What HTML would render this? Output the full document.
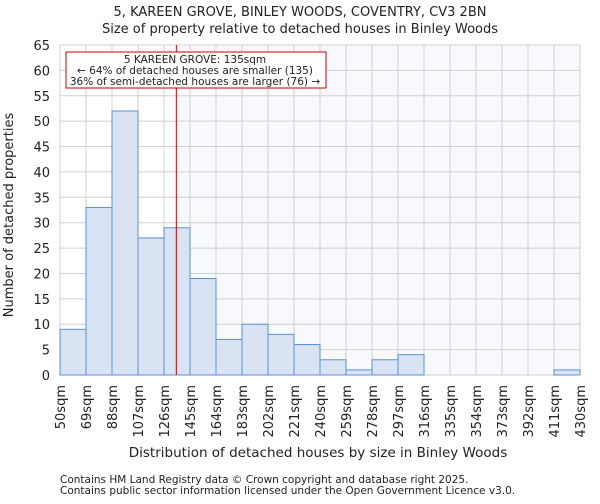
<!DOCTYPE html>
<html><head><meta charset="utf-8"><style>
body{margin:0;background:#fff;font-family:"DejaVu Sans","Liberation Sans",sans-serif;}
svg text{font-family:"DejaVu Sans","Liberation Sans",sans-serif;fill:#222;}
</style></head><body>
<svg id="chart" width="600" height="500" xmlns="http://www.w3.org/2000/svg">
<text x="300" y="16" text-anchor="middle" font-size="13">5, KAREEN GROVE, BINLEY WOODS, COVENTRY, CV3 2BN</text>
<text x="300" y="33" text-anchor="middle" font-size="13">Size of property relative to detached houses in Binley Woods</text>
<rect id="shade" fill="#f7f9fd"/>
<g id="grid"></g>
<g id="bars"></g>
<g id="yaxis"></g>
<g id="xaxis"></g>
<line id="marker" stroke="#cc0000" stroke-width="1"/>
<g>
<rect x="66" y="52" width="260" height="36" fill="#fff" stroke="#cc0000" stroke-width="1"/>
<text x="195" y="63" text-anchor="middle" font-size="10.5">5 KAREEN GROVE: 135sqm</text>
<text x="195" y="74" text-anchor="middle" font-size="10.5">← 64% of detached houses are smaller (135)</text>
<text x="195" y="85" text-anchor="middle" font-size="10.5">36% of semi-detached houses are larger (76) →</text>
</g>
<text transform="translate(13,215) rotate(-90)" text-anchor="middle" font-size="13">Number of detached properties</text>
<text x="318" y="457" text-anchor="middle" font-size="13.5">Distribution of detached houses by size in Binley Woods</text>
<text x="60" y="483" font-size="10.5">Contains HM Land Registry data © Crown copyright and database right 2025.</text>
<text x="60" y="494" font-size="10.5">Contains public sector information licensed under the Open Government Licence v3.0.</text>
</svg>
<script>
const binEdges=[50,69,88,107,126,145,164,183,202,221,240,259,278,297,316,335,354,373,392,411,430];
const counts=[9,33,52,27,29,19,7,10,8,6,3,1,3,4,0,0,0,0,0,1];
const yTicks=[0,5,10,15,20,25,30,35,40,45,50,55,60,65];
const propertySize=135;
const NS="http://www.w3.org/2000/svg";
const L=60,R=580,T=45,B=375;
const x=v=>L+(v-50)/(430-50)*(R-L);
const y=v=>B-v/65*(B-T);
function mk(tag,attrs,parent){const e=document.createElementNS(NS,tag);for(const k in attrs)e.setAttribute(k,attrs[k]);parent.appendChild(e);return e;}
const shade=document.getElementById('shade');
shade.setAttribute('x',x(propertySize));shade.setAttribute('y',T);shade.setAttribute('width',R-x(propertySize));shade.setAttribute('height',B-T);
const grid=document.getElementById('grid');
yTicks.forEach(t=>{const l=mk('line',{x1:L,x2:R,y1:y(t),y2:y(t),stroke:'#d0d0d0','stroke-width':1},grid);

});
binEdges.forEach(e=>{const l=mk('line',{x1:x(e),x2:x(e),y1:T,y2:B,stroke:'#d0d0d0','stroke-width':1},grid);

});
const bars=document.getElementById('bars');
counts.forEach((c,i)=>{if(c<=0)return;const r=mk('rect',{x:x(binEdges[i]),y:y(c),width:x(binEdges[i+1])-x(binEdges[i]),height:B-y(c),fill:'#dae3f3',stroke:'#5b8fd9','stroke-width':1},bars);

});
const ya=document.getElementById('yaxis');
yTicks.forEach(t=>{const tx=mk('text',{x:L-10,y:y(t)+5,'text-anchor':'end','font-size':13},ya);tx.textContent=t;

});
const xa=document.getElementById('xaxis');
binEdges.forEach(e=>{const tx=mk('text',{transform:`translate(${x(e)+5},${B+10}) rotate(-90)`,'text-anchor':'end','font-size':13},xa);tx.textContent=e+'sqm';

});
const m=document.getElementById('marker');
m.setAttribute('x1',x(propertySize));m.setAttribute('x2',x(propertySize));m.setAttribute('y1',T);m.setAttribute('y2',B);
</script>
</body></html>
